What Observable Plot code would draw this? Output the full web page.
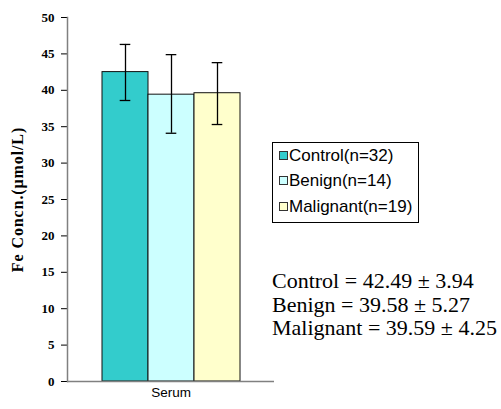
<!DOCTYPE html>
<html>
<head>
<meta charset="utf-8">
<script src="https://cdn.jsdelivr.net/npm/d3@7"></script>
<script src="https://cdn.jsdelivr.net/npm/@observablehq/plot@0.6"></script>
<style>
  html, body { margin: 0; padding: 0; background: #fff; }
  #wrap { position: relative; width: 501px; height: 409px; overflow: hidden; }
  #legend { position: absolute; left: 272px; top: 142px; width: 145px; height: 79px; border: 1px solid #000; background: #fff; box-sizing: content-box; }
  .lrow { position: absolute; left: 6px; height: 19px; line-height: 19px; font-family: "Liberation Sans", Arial, sans-serif; font-size: 17px; color: #000; white-space: nowrap; }
  .sw { display: inline-block; width: 7px; height: 7px; border: 1px solid #333; margin-right: 1px; vertical-align: 1px; }
  .stat { position: absolute; left: 272px; font-family: "Liberation Serif", "Times New Roman", serif; font-size: 22px; line-height: 23.5px; height: 23.5px; color: #000; white-space: nowrap; }
</style>
</head>
<body>
<div id="wrap"></div>
<script>
const categories = ["Control", "Benign", "Malignant"];
const legendLabels = ["Control(n=32)", "Benign(n=14)", "Malignant(n=19)"];
const means = [42.5, 39.4, 39.6];
const errLow = [38.6, 34.1, 35.3];
const errHigh = [46.3, 44.9, 43.8];
const barColors = ["#33CCCC", "#CCFFFF", "#FFFFCC"];
const yTicks = [0, 5, 10, 15, 20, 25, 30, 35, 40, 45, 50];
const groupLabel = "Serum";
const yLabel = "Fe Concn.(μmol/L)";
const statLines = ["Control = 42.49 ± 3.94", "Benign = 39.58 ± 5.27", "Malignant = 39.59 ± 4.25"];

const data = categories.map((c, i) => ({cat: c, mean: means[i], low: errLow[i], high: errHigh[i]}));

const chart = Plot.plot({
  width: 501,
  height: 409,
  marginLeft: 67,
  marginRight: 227,
  marginTop: 17,
  marginBottom: 28,
  style: {fontFamily: "Liberation Serif, serif", fontSize: "13px", color: "#000", background: "transparent"},
  x: {domain: categories, paddingInner: 0, paddingOuter: 0.735, axis: null},
  y: {domain: [0, 50], axis: null},
  color: {domain: categories, range: barColors},
  marks: [
    Plot.barY(data, {x: "cat", y: "mean", fill: "cat", stroke: "#111", strokeWidth: 1}),
    Plot.ruleX(data, {x: "cat", y1: "low", y2: "high", stroke: "#000", strokeWidth: 1.3}),
    Plot.tickY(data, {x: "cat", y: "low", insetLeft: 17.7, insetRight: 17.7, stroke: "#000", strokeWidth: 1.3}),
    Plot.tickY(data, {x: "cat", y: "high", insetLeft: 17.7, insetRight: 17.7, stroke: "#000", strokeWidth: 1.3}),
    Plot.axisY({ticks: yTicks, tickSize: 6, tickPadding: 7, label: null, fontWeight: "bold", fontSize: 13}),
    Plot.ruleY([0], {stroke: "#808080", strokeWidth: 1.5}),
    Plot.frame({anchor: "left", stroke: "#808080", strokeWidth: 1.5}),
    Plot.text([groupLabel], {text: d => d, frameAnchor: "bottom", dy: 15, fontSize: 13.5}),
    Plot.text([yLabel], {text: d => d, frameAnchor: "left", dx: -50, rotate: -90, textAnchor: "middle", lineAnchor: "middle", fontWeight: "bold", fontSize: 16})
  ]
});

const wrap = document.getElementById("wrap");
wrap.appendChild(chart);

// explicit text styling
d3.select(chart).selectAll("text").each(function() {
  const t = this.textContent;
  if (t === groupLabel) {
    this.style.fontFamily = "'Liberation Sans', Arial, sans-serif";
    this.style.fontSize = "13.5px";
  } else if (t === yLabel) {
    this.style.fontFamily = "'Liberation Serif', serif";
    this.style.fontSize = "16px";
    this.style.fontWeight = "bold";
    this.style.letterSpacing = "0.9px";
  } else {
    this.style.fontFamily = "'Liberation Serif', serif";
    this.style.fontSize = "13px";
    this.style.fontWeight = "bold";
  }
});

const legend = document.createElement("div");
legend.id = "legend";
legendLabels.forEach((lab, i) => {
  const row = document.createElement("div");
  row.className = "lrow";
  row.style.top = (160 - 142 - 15.4 + 25.5 * i) + "px";
  const sw = document.createElement("span");
  sw.className = "sw";
  sw.style.background = barColors[i];
  row.appendChild(sw);
  row.appendChild(document.createTextNode(lab));
  legend.appendChild(row);
});
wrap.appendChild(legend);

statLines.forEach((s, i) => {
  const d = document.createElement("div");
  d.className = "stat";
  d.style.top = (269.1 + 23.4 * i) + "px";
  d.textContent = s;
  wrap.appendChild(d);
});
</script>
</body>
</html>
